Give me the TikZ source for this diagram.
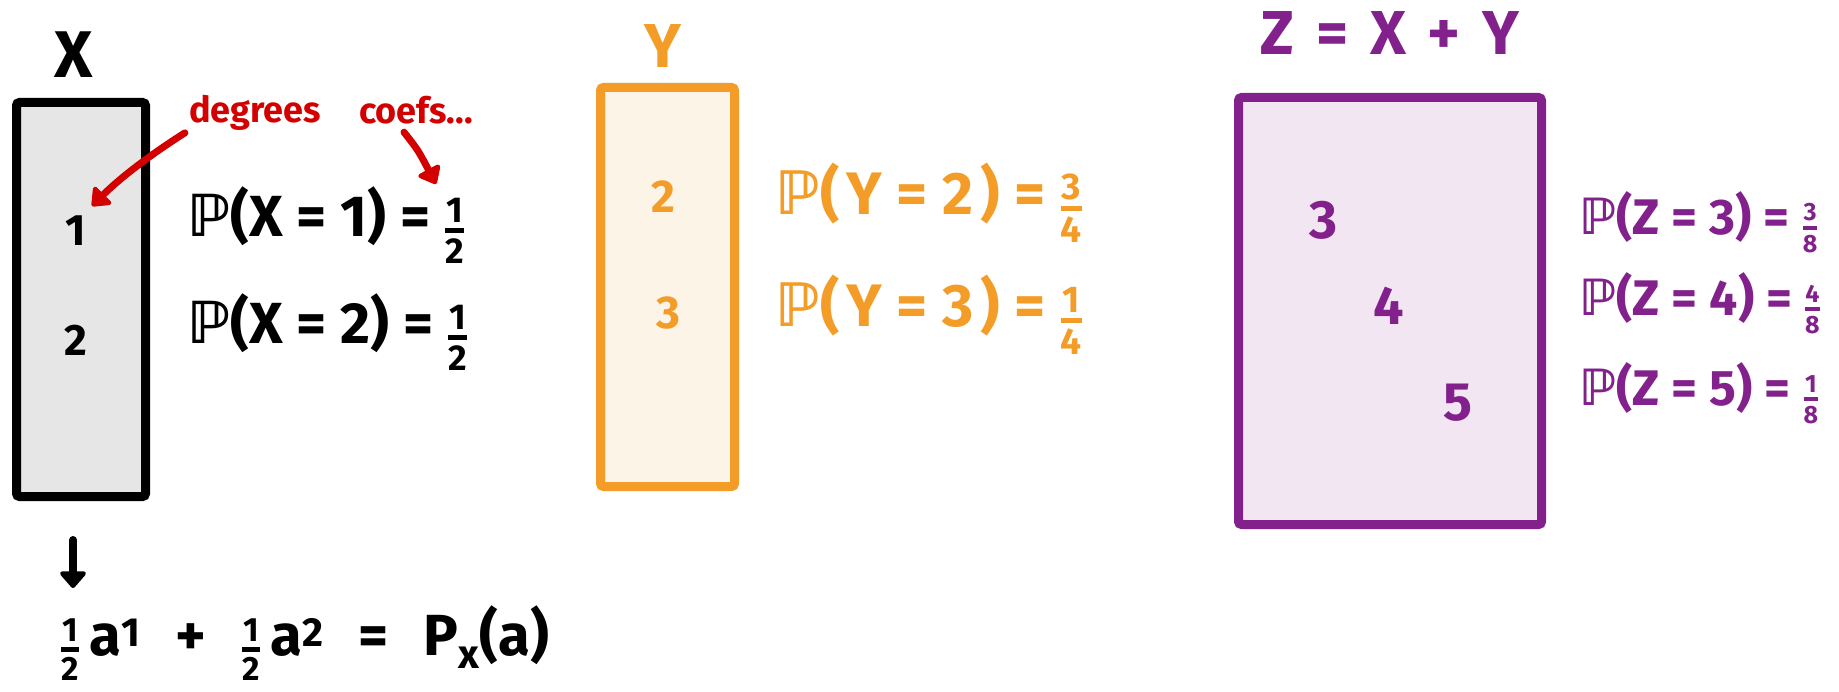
\documentclass[tikz,border=0pt]{standalone}
\usepackage{fontspec}
\usepackage{amsmath}
\usepackage{graphicx}
\usetikzlibrary{arrows.meta}
\setmainfont{Fira Sans}
\newfontfamily\dvs{DejaVu Sans}
\definecolor{ink}{HTML}{000000}
\definecolor{redink}{HTML}{D40000}
\definecolor{orangeink}{HTML}{F39C28}
\definecolor{purpleink}{HTML}{82218B}
\definecolor{grayfill}{HTML}{E6E6E6}
\definecolor{orangefill}{HTML}{FDF4E8}
\definecolor{purplefill}{HTML}{F2E6F2}
\newcommand{\PP}{{\dvs\bfseries ℙ}}
\newcommand{\fr}[3][0.62]{\ensuremath{\genfrac{}{}{0.09em}{}{\hbox{\scalebox{#1}{#2}}}{\hbox{\scalebox{#1}{#3}}}}}
\newcommand{\wsp}{\hspace{0.35em}}
\newcommand{\gsp}{\hspace{0.6em}}
\newcommand{\nsp}{\hspace{0.12em}}
\begin{document}
\begin{tikzpicture}[x=1pt,y=-1pt,
  box/.style={draw, line width=9pt, rounded corners=3pt, inner sep=0pt},
  txt/.style={font=\bfseries\fontsize{#1}{#1}\selectfont, inner sep=0pt},
  redarrow/.style={draw=redink, line width=7pt, line cap=round, -{Triangle[round, length=18pt, width=28pt]}},
  blackarrow/.style={draw=ink, line width=8pt, line cap=round, -{Triangle[round, length=18pt, width=30pt]}}]
\useasboundingbox (0,0) rectangle (1839,692);

% ---------- X ----------
\node[txt=66] (xlab) at (74,55) {X};
\node[box, draw=ink, fill=grayfill, minimum width=129pt, minimum height=394pt] (xbox) at (81,299.5) {};
\node[txt=44] (x1) at (76,231) {1};
\node[txt=44] (x2) at (76,340) {2};
\node[txt=58, anchor=west] (px1) at (187,225) {\PP(X = 1) = \fr{1}{2}};
\node[txt=58, anchor=west] (px2) at (187,332) {\PP(X = 2) = \fr{1}{2}};
\node[txt=36, text=redink] (deg) at (255,113) {degrees};
\node[txt=36, text=redink] (coef) at (416,110) {coefs...};
\coordinate (degtip) at (92,206);
\coordinate (coeftip) at (436,184);
\draw[redarrow] (deg.south west) ++(-4,2) .. controls (150,155) and (120,178) .. (degtip);
\draw[redarrow] (coef.south) ++(-12,8) .. controls (418,150) .. (coeftip);
\coordinate (arrstart) at (73,540);
\coordinate (arrend) at (73,588);
\draw[blackarrow] (arrstart) -- (arrend);
\node[txt=58, anchor=west] (gen) at (60,643) {\fr[0.58]{1}{2}\,a\textsuperscript{1}\gsp+\gsp\fr[0.58]{1}{2}\,a\textsuperscript{2}\gsp=\gsp P\textsubscript{x}(a)};

% ---------- Y ----------
\node[txt=62, text=orangeink] (ylab) at (663,46) {Y};
\node[box, draw=orangeink, fill=orangefill, minimum width=134pt, minimum height=399pt] (ybox) at (667.5,287) {};
\node[txt=46, text=orangeink] (y2) at (663,197) {2};
\node[txt=46, text=orangeink] (y3) at (668,313) {3};
\node[txt=60, text=orangeink, anchor=west] (py2) at (775,203) {\PP(\nsp Y = 2\nsp) = \fr{3}{4}};
\node[txt=60, text=orangeink, anchor=west] (py3) at (775,315) {\PP(\nsp Y = 3\nsp) = \fr{1}{4}};

% ---------- Z ----------
\node[txt=62, text=purpleink] (zlab) at (1390,33) {Z\wsp=\wsp X\wsp+\wsp Y};
\node[box, draw=purpleink, fill=purplefill, minimum width=303pt, minimum height=427pt] (zbox) at (1390,311) {};
\node[txt=54, text=purpleink] (z3) at (1324,220) {3};
\node[txt=54, text=purpleink] (z4) at (1389,306) {4};
\node[txt=54, text=purpleink] (z5) at (1458,403) {5};
\node[txt=50, text=purpleink, anchor=west] (pz3) at (1579,222) {\PP(Z = 3) = \fr[0.5]{3}{8}};
\node[txt=50, text=purpleink, anchor=west] (pz4) at (1579,303) {\PP(Z = 4) = \fr[0.5]{4}{8}};
\node[txt=50, text=purpleink, anchor=west] (pz5) at (1579,393) {\PP(Z = 5) = \fr[0.5]{1}{8}};
\end{tikzpicture}
\end{document}
